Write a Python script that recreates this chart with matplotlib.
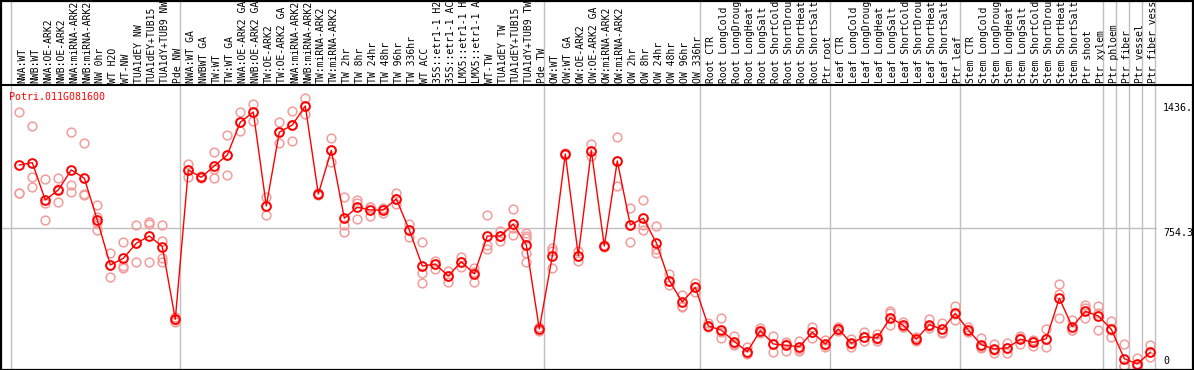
import numpy as np
import matplotlib
matplotlib.use('Agg')
import matplotlib.pyplot as plt
from matplotlib.lines import Line2D
from matplotlib.patches import Rectangle
import matplotlib.transforms as mtransforms

# 샘플 이름 (그림에 보이는 만큼만)
samples = ['NWA:WT', 'NWB:WT', 'NWA:OE-ARK2', 'NWB:OE-ARK2', 'NWA:miRNA-ARK2', 'NWB:miRNA-ARK2',
           'NW 0hr', 'WT H2O', 'WT-NW', 'TUA1dEY NW', 'TUA1dEY+TUB15', 'TUA1dY+TUB9 NW', 'Pde NW',
           'NWA:WT GA', 'NWBWT GA', 'TW:WT', 'TW:WT GA', 'NWA:OE-ARK2 GA', 'NWB:OE-ARK2 GA',
           'TW:OE-ARK2', 'TW:OE-ARK2 GA', 'NWA:miRNA-ARK2', 'NWB:miRNA-ARK2', 'TW:miRNA-ARK2',
           'TW:miRNA-ARK2', 'TW 2hr', 'TW 8hr', 'TW 24hr', 'TW 48hr', 'TW 96hr', 'TW 336hr', 'WT ACC',
           '35S::etr1-1 H2', '35S::etr1-1 AC', 'LMX5::etr1-1 H', 'LMX5::etr1-1 A', 'WT-TW',
           'TUA1dEY TW', 'TUA1dEY+TUB15', 'TUA1dY+TUB9 TW', 'Pde TW',
           'OW:WT', 'OW:WT GA', 'OW:OE-ARK2', 'OW:OE-ARK2 GA', 'OW:miRNA-ARK2', 'OW:miRNA-ARK2',
           'OW 2hr', 'OW 8hr', 'OW 24hr', 'OW 48hr', 'OW 96hr', 'OW 336hr',
           'Root CTR', 'Root LongCold', 'Root LongDroug', 'Root LongHeat', 'Root LongSalt',
           'Root ShortCold', 'Root ShortDrou', 'Root ShortHeat', 'Root ShortSalt', 'Ptr root',
           'Leaf CTR', 'Leaf LongCold', 'Leaf LongDroug', 'Leaf LongHeat', 'Leaf LongSalt',
           'Leaf ShortCold', 'Leaf ShortDrou', 'Leaf ShortHeat', 'Leaf ShortSalt', 'Ptr leaf',
           'Stem CTR', 'Stem LongCold', 'Stem LongDroug', 'Stem LongHeat', 'Stem LongSalt',
           'Stem ShortCold', 'Stem ShortDrou', 'Stem ShortHeat', 'Stem ShortSalt', 'Ptr shoot',
           'Ptr xylem', 'Ptr phloem', 'Ptr fiber', 'Ptr vessel', 'Ptr fiber vess']

# 평균값
means = [1096, 1109, 905, 960, 1069, 1024, 796, 551, 587, 669, 709, 651, 255,
         1069, 1029, 1091, 1151, 1329, 1385, 873, 1275, 1314, 1418, 938, 1176, 806, 866, 851,
         851, 911, 742, 545, 556, 491, 569, 502, 709, 709, 773, 660, 202,
         600, 1156, 602, 1175, 654, 1118, 769, 806, 672, 465, 349, 429,
         218, 196, 133, 78, 193, 120, 113, 105, 184, 120,
         202, 124, 160, 153, 263, 222, 146, 225, 200, 287,
         196, 116, 93, 98, 146, 129, 149, 369, 214, 298,
         273, 200, 40, 11, 75]

# 반복 측정값
reps = [[1385, 945, 944], [1309, 1029, 978], [1018, 891, 796], [1024, 893, 963],
        [1276, 987, 947], [1215, 936, 931], [878, 814, 778, 742], [615, 484, 551],
        [675, 547, 536], [769, 566, 671], [787, 773, 566], [769, 683, 587, 566],
        [269, 251, 242],
        [1102, 1032, 1069], [1036, 1029, 1023], [1167, 1074, 1024], [1260, 1042, 1151],
        [1384, 1280, 1329], [1429, 1335, 1385], [923, 822, 873], [1329, 1215, 1275],
        [1392, 1227, 1314], [1462, 1374, 1418], [943, 938, 933], [1242, 1114, 1176],
        [920, 769, 729], [905, 891, 800], [869, 818, 866], [860, 836, 856], [942, 882, 911],
        [774, 705, 742], [675, 506, 454], [574, 529, 556], [518, 460, 491], [596, 542, 569],
        [533, 460, 511], [822, 636, 660], [738, 683, 709], [856, 714, 751],
        [724, 711, 696, 615, 566], [213, 202, 191],
        [642, 533, 627], [1163, 1156, 1151], [626, 574, 602], [1211, 1145, 1175],
        [660, 654, 649], [1249, 983, 1118], [860, 678, 769], [905, 769, 742],
        [764, 636, 618], [502, 442, 465], [387, 327, 320], [451, 405, 429],
        [233, 211, 218], [260, 154, 185], [164, 120, 115], [102, 69, 65], [207, 193, 180],
        [165, 78, 120], [133, 83, 122], [138, 83, 94], [214, 151, 185], [142, 102, 116],
        [214, 191, 200], [145, 106, 120], [184, 138, 158], [175, 139, 145], [300, 287, 222],
        [242, 211, 213], [160, 136, 140], [255, 206, 217], [233, 182, 185], [327, 251, 284],
        [211, 184, 195], [151, 97, 102], [120, 69, 87], [124, 73, 98], [165, 120, 151],
        [142, 109, 136], [200, 102, 145], [446, 393, 260], [251, 196, 196], [333, 315, 260],
        [327, 291, 196], [245, 157, 199], [118, 2, 0], [42, 0, 0], [115, 51, 75]]

# 그룹 구분선 (이 샘플 뒤에 선)
group_ends = [-1, 12, 40, 52, 62, 72, 83, 84, 85, 86, 87]

W, H = 1194, 370
fig = plt.figure(figsize=(W / 100, H / 100), dpi=100)
ax_l, ax_r, ax_top, ax_bot = 1.5, 1157, 84.5, 368.5
ax = fig.add_axes([ax_l / W, (H - ax_bot) / H, (ax_r - ax_l) / W, (ax_bot - ax_top) / H])
ax.set_xlim(-1.369, 87.515)
ax.set_ylim(-13.6, 1535)
ax.set_xticks([])
ax.set_yticks([])
for s in ax.spines.values():
    s.set_visible(False)

mono = 'DejaVu Sans Mono'
x = np.arange(len(samples))

# 격자선
ext = 1 + (ax_top - 0) / (ax_bot - ax_top)
for g in group_ends:
    ax.axvline(g + 0.385, ymin=0, ymax=ext, color='#c0c0c0', lw=1, clip_on=False, zorder=1)
ax.axhline(754.3, color='#c0c0c0', lw=1, zorder=1)

# 반복값
for i, r in enumerate(reps):
    ax.plot([i] * len(r), r, 'o', ms=6.3, mfc='none', mec='#f29c9c', mew=1.1, zorder=2)

# 평균선
ax.plot(x, means, '-', color='red', lw=1.0, zorder=3)
ax.plot(x, means, 'o', ms=6.3, mfc='none', mec='red', mew=1.4, zorder=4)

# 샘플 라벨
trans = mtransforms.blended_transform_factory(ax.transData, ax.transAxes)
for i, s in enumerate(samples):
    ax.text(i + 0.2, 1.006, s, transform=trans, rotation=90, ha='center', va='bottom',
            fontsize=7.0, family=mono, color='black', clip_on=False)

ax.text(0.0068, 0.956, 'Potri.011G081600', transform=ax.transAxes, color='red',
        fontsize=7.2, family=mono, va='center', ha='left')

# 오른쪽 축 값
trans2 = mtransforms.blended_transform_factory(ax.transAxes, ax.transData)
ax.text(1.0053, 1436, '1436.', transform=trans2, va='top', ha='left', fontsize=7.2, family=mono, clip_on=False)
ax.text(1.0053, 754.3, '754.3', transform=trans2, va='top', ha='left', fontsize=7.2, family=mono, clip_on=False)
ax.text(1.0053, 0, '0', transform=trans2, va='bottom', ha='left', fontsize=7.2, family=mono, clip_on=False)

# 테두리
fig.add_artist(Rectangle((0.5 / W, 0.5 / H), 1 - 1.5 / W, 1 - 1.5 / H, transform=fig.transFigure,
                         fill=False, ec='black', lw=1.6))
fig.add_artist(Line2D([0, 1], [(H - ax_top) / H] * 2, transform=fig.transFigure, color='black', lw=1.5))

fig.savefig('out.png', dpi=100)
